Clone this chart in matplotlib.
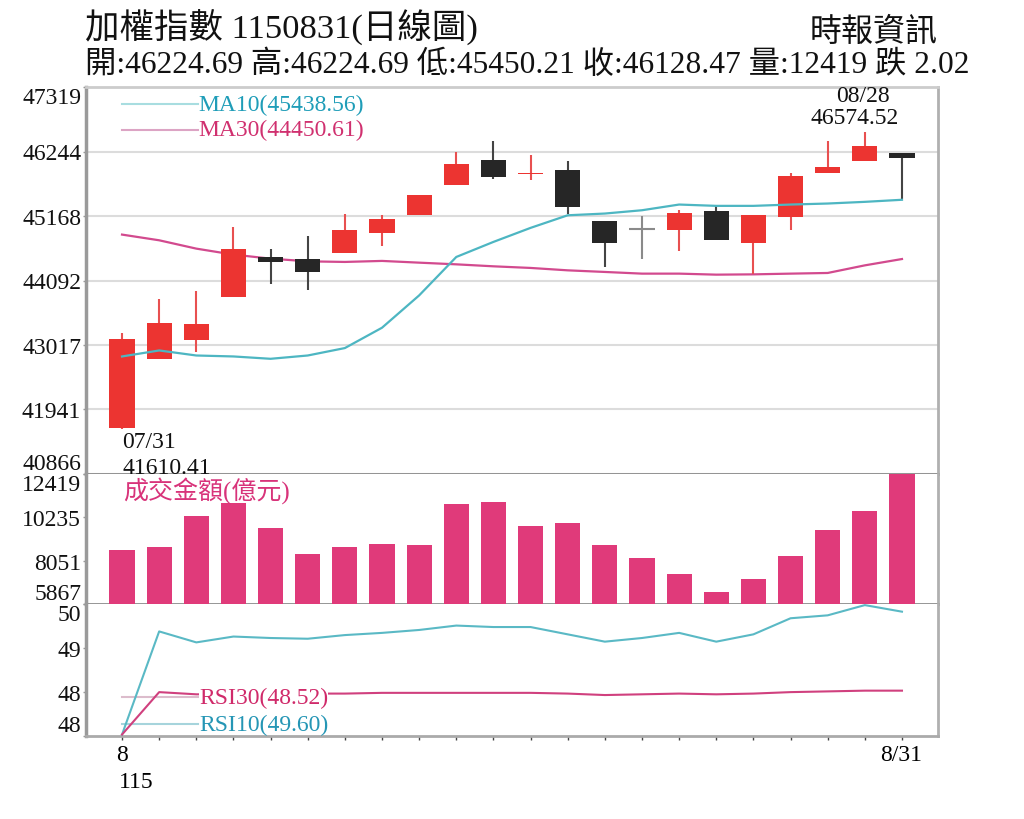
import numpy as np
import matplotlib
matplotlib.use('Agg')
import matplotlib.pyplot as plt

plt.rcParams['font.family'] = ['Liberation Serif', 'Noto Sans CJK TC', 'DejaVu Sans']

# 日K資料 07/31 ~ 08/31
dates = ['07/31', '08/03', '08/04', '08/05', '08/06', '08/07', '08/10', '08/11',
         '08/12', '08/13', '08/14', '08/17', '08/18', '08/19', '08/20', '08/21',
         '08/24', '08/25', '08/26', '08/27', '08/28', '08/31']
opens = [41640, 42787, 43104, 43817, 44485, 44445, 44552, 44891, 45180, 45681, 46099,
         45860, 45932, 45080, 44958, 44930, 45247, 44724, 45153, 45893, 46082, 46224.69]
highs = [43221, 43789, 43918, 44987, 44612, 44836, 45209, 45192, 45514, 46239, 46416,
         46182, 46082, 45080, 45170, 45264, 45359, 45180, 45877, 46416, 46574.52, 46224.69]
lows = [41610.41, 42787, 42899, 43817, 44028, 43928, 44552, 44663, 45180, 45681, 45793,
        45765, 45209, 44318, 44457, 44579, 44774, 44207, 44930, 45893, 46082, 45450.21]
closes = [43121, 43388, 43360, 44612, 44402, 44235, 44941, 45125, 45514, 46032, 45821,
          45872, 45320, 44724, 44958, 45225, 44774, 45180, 45838, 45977, 46339, 46128.47]

ma10 = [42826, 42926, 42842, 42826, 42787, 42842, 42966, 43305, 43844, 44485, 44736,
        44970, 45180, 45209, 45264, 45359, 45337, 45337, 45359, 45376, 45404, 45438.56]
ma30 = [44858, 44763, 44624, 44524, 44457, 44412, 44402, 44419, 44390, 44362, 44329,
        44302, 44262, 44235, 44207, 44207, 44190, 44195, 44207, 44218, 44345, 44450.61]

# 成交金額(億元)
volume = [8604, 8725, 10302, 10942, 9682, 8387, 8725, 8906, 8841, 10907, 11023,
          9783, 9965, 8825, 8185, 7394, 6487, 7127, 8301, 9581, 10569, 12419]

rsi10 = [47.92, 49.33, 49.18, 49.26, 49.24, 49.23, 49.28, 49.31, 49.35, 49.41, 49.39,
         49.39, 49.29, 49.19, 49.24, 49.31, 49.19, 49.29, 49.51, 49.55, 49.69, 49.60]
rsi30 = [47.92, 48.50, 48.47, 48.47, 48.47, 48.48, 48.48, 48.49, 48.49, 48.49, 48.49,
         48.49, 48.48, 48.46, 48.47, 48.48, 48.47, 48.48, 48.50, 48.51, 48.52, 48.52]

price_ticks = [40866, 41941.5, 43017, 44092.5, 45168, 46243.5, 47319]
price_labels = ['40866', '41941', '43017', '44092', '45168', '46244', '47319']
vol_ticks = [5867, 8051, 10235, 12419]
rsi_ticks = [47.9, 48.5, 49.1, 49.7]
rsi_labels = ['48', '48', '49', '50']

RED = '#ec3431'
BLACK = '#262626'
PINK = '#e03a7a'
TEAL = '#4db6c2'
MAGENTA = '#d24a8e'
FS = 17

x = np.arange(len(dates))

fig = plt.figure(figsize=(10.24, 8.2), dpi=100)
L, W = 86 / 1024, 852 / 1024
ax = fig.add_axes([L, 1 - 475 / 820, W, 387 / 820])
ax_v = fig.add_axes([L, 1 - 605 / 820, W, 130 / 820])
ax_r = fig.add_axes([L, 1 - 737 / 820, W, 132 / 820])

# --- K線 ---
min_body = 30
for i in range(len(x)):
    o, h, l, c = opens[i], highs[i], lows[i], closes[i]
    if c > o:
        col, wcol = RED, '#e85050'
    elif c < o:
        col, wcol = BLACK, '#444444'
    else:
        col, wcol = '#8a8a8a', '#8a8a8a'
    ax.vlines(x[i], l, h, color=wcol, lw=1.5, zorder=3)
    if c == o:
        ax.hlines(o, x[i] - 0.34, x[i] + 0.34, color=col, lw=1.5, zorder=4)
    else:
        ax.bar(x[i], max(abs(c - o), min_body), width=0.68, bottom=min(o, c),
               color=col, zorder=4)

ax.plot(x, ma10, color=TEAL, lw=1.6, zorder=5)
ax.plot(x, ma30, color=MAGENTA, lw=1.6, zorder=2)

ax.set_xlim(-0.97, 21.97)
ax.set_ylim(40866, 47319)
ax.set_yticks(price_ticks)
ax.set_yticklabels(price_labels)
ax.set_xticks([])
ax.yaxis.grid(True, color='#dcdcdc', lw=1.5)
ax.set_axisbelow(True)

# 均線圖例
ax.plot([0.042, 0.131], [0.956, 0.956], transform=ax.transAxes, color='#a8dde0', lw=1.5)
ax.plot([0.042, 0.131], [0.890, 0.890], transform=ax.transAxes, color='#dca4c4', lw=1.5)
ax.text(0.132, 0.956, 'MA10(45438.56)', transform=ax.transAxes, color='#1f9db8',
        fontsize=FS, va='center')
ax.text(0.132, 0.890, 'MA30(44450.61)', transform=ax.transAxes, color='#d0306f',
        fontsize=FS, va='center')

# 最低 / 最高 標註
ax.annotate('07/31', xy=(0, lows[0]), xytext=(0, -12), textcoords='offset pixels',
            ha='left', va='center', fontsize=FS, color='#111111')
ax.annotate('41610.41', xy=(0, lows[0]), xytext=(0, -38), textcoords='offset pixels',
            ha='left', va='center', fontsize=FS, color='#111111')
ax.annotate('46574.52', xy=(20, highs[20]), xytext=(-10, 14), textcoords='offset pixels',
            ha='center', va='center', fontsize=FS, color='#111111')
ax.annotate('08/28', xy=(20, highs[20]), xytext=(-2, 36), textcoords='offset pixels',
            ha='center', va='center', fontsize=FS, color='#111111')

# --- 成交金額 ---
ax_v.bar(x, volume, width=0.68, color=PINK, zorder=3)
ax_v.set_xlim(-0.97, 21.97)
ax_v.set_ylim(5867, 12419)
ax_v.set_yticks(vol_ticks)
ax_v.set_yticklabels([str(v) for v in vol_ticks])
ax_v.set_xticks([])
ax_v.text(0.0434, 0.877, '成交金額(億元)', transform=ax_v.transAxes, color='#d8337a',
          fontsize=18, va='center')

# --- RSI ---
ax_r.plot(x, rsi10, color='#5ab9c5', lw=1.5, zorder=3)
ax_r.plot(x, rsi30, color='#d0407e', lw=1.5, zorder=3)
ax_r.set_xlim(-0.97, 21.97)
ax_r.set_ylim(47.9, 49.705)
ax_r.set_yticks(rsi_ticks)
ax_r.set_yticklabels(rsi_labels)
ax_r.set_xticks(x)
ax_r.set_xticklabels([''] * len(x))
ax_r.plot([0.042, 0.132], [0.295, 0.295], transform=ax_r.transAxes, color='#dcbccc', lw=1.5)
ax_r.plot([0.042, 0.132], [0.091, 0.091], transform=ax_r.transAxes, color='#a6d4dc', lw=1.5)
ax_r.text(0.133, 0.295, 'RSI30(48.52)', transform=ax_r.transAxes, color='#d02a6a',
          fontsize=FS, va='center', zorder=6,
          bbox=dict(facecolor='white', edgecolor='none', pad=0))
ax_r.text(0.133, 0.091, 'RSI10(49.60)', transform=ax_r.transAxes, color='#2596b5',
          fontsize=FS, va='center', zorder=6)

ax_r.annotate('8', xy=(0, 0), xycoords=('data', 'axes fraction'), xytext=(0, -19),
              textcoords='offset pixels', ha='center', va='center', fontsize=FS)
ax_r.annotate('115', xy=(0, 0), xycoords=('data', 'axes fraction'), xytext=(14, -46),
              textcoords='offset pixels', ha='center', va='center', fontsize=FS)
ax_r.annotate('8/31', xy=(21, 0), xycoords=('data', 'axes fraction'), xytext=(-1, -19),
              textcoords='offset pixels', ha='center', va='center', fontsize=FS)

# --- 外框與刻度 ---
for a in (ax, ax_v, ax_r):
    a.tick_params(axis='y', labelsize=FS, length=2.5, width=1, color='#999999',
                  pad=1, labelcolor='#111111')
    a.spines['left'].set_color('#9a9a9a')
    a.spines['left'].set_linewidth(2.5)
    a.spines['right'].set_color('#b0b0b0')
    a.spines['right'].set_linewidth(2)
    a.spines['bottom'].set_color('#8c8c8c')
    a.spines['bottom'].set_linewidth(2)
    a.spines['top'].set_visible(False)
    labels = a.get_yticklabels()
    labels[0].set_va('bottom')
    labels[-1].set_va('top')
ax.spines['top'].set_visible(True)
ax.spines['top'].set_color('#cccccc')
ax.spines['top'].set_linewidth(2)
ax_r.spines['bottom'].set_color('#aaaaaa')
ax_r.tick_params(axis='x', length=3, width=1, color='#444444')

# --- 標題 ---
fig.text(85 / 1024, 1 - 28 / 820, '加權指數 1150831(日線圖)', fontsize=24.8,
         ha='left', va='center', color='#111111')
fig.text(85 / 1024, 1 - 65 / 820,
         '開:46224.69 高:46224.69 低:45450.21 收:46128.47 量:12419 跌 2.02',
         fontsize=22.6, ha='left', va='center', color='#111111')
fig.text(938 / 1024, 1 - 33 / 820, '時報資訊', fontsize=23, ha='right', va='center',
         color='#111111')

fig.savefig('out.png', dpi=100, facecolor='white')
